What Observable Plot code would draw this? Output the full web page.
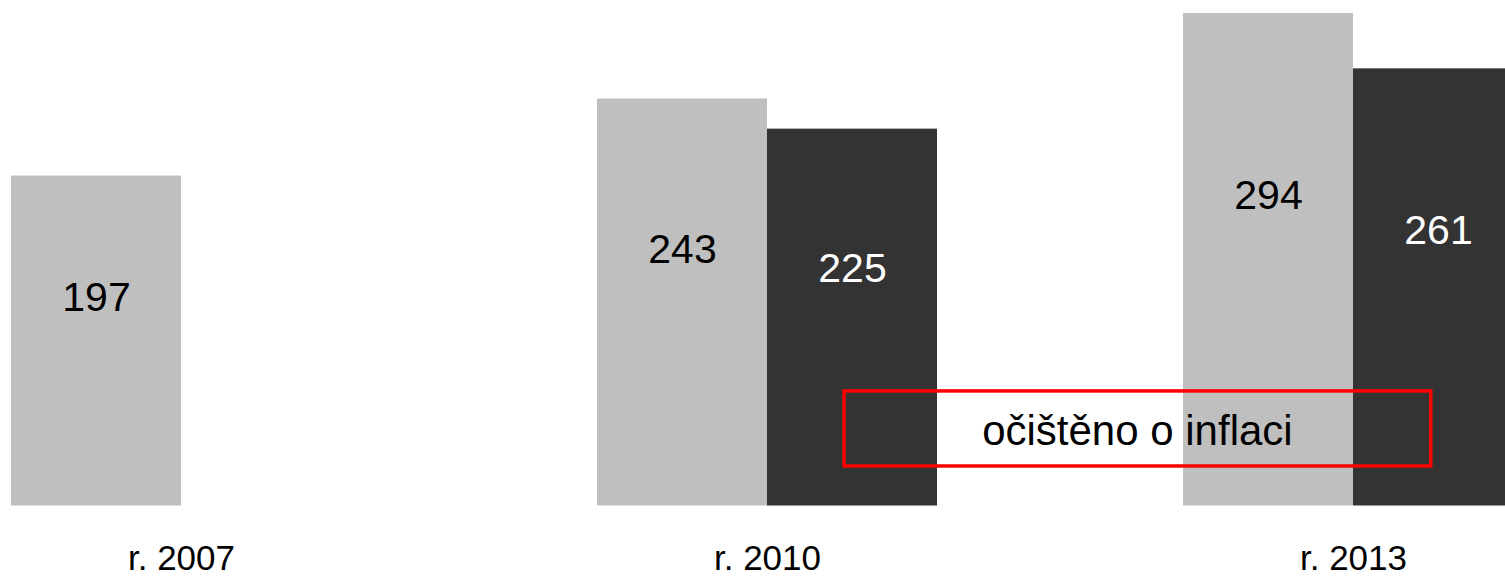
<!DOCTYPE html>
<html>
<head>
<meta charset="utf-8">
<script src="https://cdn.jsdelivr.net/npm/d3@7"></script>
<script src="https://cdn.jsdelivr.net/npm/@observablehq/plot@0.6"></script>
<style>
  body { margin: 0; background: #ffffff; }
  #chart { position: relative; width: 1505px; height: 577px; overflow: hidden; }
</style>
</head>
<body>
<div id="chart"></div>
<script>
// ---- data ----
const years = ["r. 2007", "r. 2010", "r. 2013"];
const series = ["nominal", "real"];
const nominalValues = [197, 243, 294];
const realValues = [null, 225, 261];
const seriesColors = ["#bfbfbf", "#333333"];
const labelColors = ["#000000", "#ffffff"];
const annotationText = "očištěno o inflaci";

// ---- build table ----
const rows = [];
years.forEach((yr, i) => {
  if (nominalValues[i] != null) rows.push({year: yr, series: "nominal", value: nominalValues[i]});
  if (realValues[i] != null) rows.push({year: yr, series: "real", value: realValues[i]});
});

const font = "'Liberation Sans', Arial, sans-serif";

const plot = Plot.plot({
  width: 1505,
  height: 577,
  marginTop: 0,
  marginLeft: 0,
  marginRight: 0,
  marginBottom: 71.5,
  style: {fontFamily: font, background: "white", overflow: "hidden", color: "#000"},
  fx: {domain: years, range: [10, 1523.4], paddingInner: 0.4205, paddingOuter: 0, label: null},
  x: {domain: series, padding: 0, axis: null},
  y: {domain: [0, 301.8], axis: null},
  color: {domain: series, range: seriesColors},
  marks: [
    Plot.barY(rows, {fx: "year", x: "series", y: "value", fill: "series"}),
    ...series.map((s, k) =>
      Plot.text(rows.filter(d => d.series === s), {
        fx: "year", x: "series",
        y: d => d.value * 0.63,
        text: d => String(d.value),
        fill: labelColors[k],
        fontSize: 41
      })
    ),
    Plot.axisFx({anchor: "bottom", tickSize: 0, tickPadding: 39, fontSize: 35, label: null, fill: "#000"})
  ]
});

document.getElementById("chart").appendChild(plot);

// ---- annotation box (placed through the plot's own scales) ----
const fxS = plot.scale("fx");
const xS = plot.scale("x");
const yS = plot.scale("y");
const fxB = d3.scaleBand().domain(fxS.domain).range(fxS.range)
  .paddingInner(fxS.paddingInner ?? 0.4205).paddingOuter(fxS.paddingOuter ?? 0).align(fxS.align ?? 0.5);
const xB = d3.scaleBand().domain(xS.domain).range(xS.range)
  .paddingInner(xS.paddingInner ?? 0).paddingOuter(xS.paddingOuter ?? 0).align(xS.align ?? 0.5);
const yL = d3.scaleLinear().domain(yS.domain).range(yS.range);

const bx1 = fxB("r. 2010") + xB("real") + 0.455 * xB.bandwidth();
const bx2 = fxB("r. 2013") + xB("real") + 0.455 * xB.bandwidth();
const by1 = yL(68.4), by2 = yL(23.6);

const svg = d3.select(plot);
svg.append("rect")
  .attr("x", bx1).attr("y", by1)
  .attr("width", bx2 - bx1).attr("height", by2 - by1)
  .attr("fill", "none").attr("stroke", "#ff0000").attr("stroke-width", 3.5);
svg.append("text")
  .attr("x", (bx1 + bx2) / 2).attr("y", yL(45.1)).attr("dy", "0.36em")
  .attr("text-anchor", "middle")
  .attr("font-size", 42).attr("font-family", font).attr("fill", "#000")
  .text(annotationText);
</script>
</body>
</html>
